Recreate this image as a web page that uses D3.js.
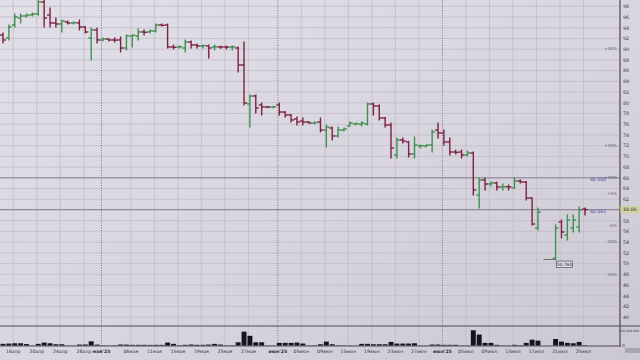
<!DOCTYPE html>
<html>
<head>
<meta charset="utf-8">
<script src="https://cdn.jsdelivr.net/npm/d3@7"></script>
<style>
  body { margin: 0; background: #d8d5de; }
  svg { display: block; font-family: "DejaVu Sans", sans-serif; }
</style>
</head>
<body>
<script>
// daily bars, Apr 14 .. Jul 25 2025 (weekend sessions included)
const dates = [
  '04-14','04-15','04-16','04-17','04-18','04-19','04-20','04-21','04-22','04-23','04-24','04-25','04-26','04-27','04-28','04-29','04-30',
  '05-01','05-02','05-03','05-04','05-05','05-06','05-07','05-08','05-10','05-11','05-12','05-13','05-14','05-15','05-16','05-17','05-18','05-19','05-20','05-21','05-22','05-23','05-24','05-25','05-26','05-27','05-28','05-29','05-30','05-31',
  '06-01','06-02','06-03','06-04','06-05','06-06','06-07','06-08','06-09','06-10','06-11','06-14','06-15','06-16','06-17','06-18','06-19','06-20','06-21','06-22','06-23','06-24','06-25','06-26','06-27','06-28','06-29','06-30',
  '07-01','07-02','07-03','07-04','07-05','07-06','07-07','07-08','07-09','07-10','07-11','07-12','07-13','07-14','07-15','07-16','07-17','07-18','07-19','07-20','07-21','07-22','07-23','07-24','07-25'
]

const open = [
  92.65,92.09,94.52,95.82,96.19,96.38,96.57,98.81,96.38,94.89,94.70,95.08,94.89,94.89,94.14,92.09,93.58,
  91.72,91.90,91.72,91.72,90.22,92.46,92.46,93.21,93.21,93.40,94.52,94.52,90.41,90.41,90.22,91.34,90.78,90.60,90.60,90.41,90.41,90.41,90.41,90.22,87.05,79.78,81.27,79.59,79.22,79.20,
  79.59,78.28,77.72,76.98,76.60,76.42,76.23,76.42,74.92,75.30,73.81,74.92,75.67,76.04,76.04,76.04,79.78,79.40,77.16,75.86,70.26,73.06,72.69,70.45,71.94,71.94,72.13,74.92,
  74.37,72.69,70.82,70.82,70.26,70.63,62.80,65.60,64.85,65.04,64.29,64.35,64.10,65.41,65.22,62.24,56.64,null,null,51.00,57.76,55.34,56.64,56.83,60.19
]
const high = [
  93.02,94.52,96.57,96.57,96.57,96.75,99.18,99.18,97.69,95.82,95.45,95.26,95.08,95.45,94.20,93.96,93.96,
  92.09,91.95,92.09,92.28,92.65,92.65,93.77,93.58,93.58,94.70,94.70,94.70,90.78,90.60,91.72,91.53,90.95,90.78,90.78,90.78,90.55,90.60,90.60,90.41,91.34,81.46,81.46,79.96,79.30,79.35,
  79.96,78.35,77.80,77.35,77.16,76.50,76.42,77.16,75.86,75.48,75.48,75.30,76.42,76.23,76.42,79.96,79.96,79.59,77.25,76.23,73.43,73.43,72.80,73.62,72.13,72.13,74.92,76.23,
  74.92,73.43,71.19,71.19,71.00,70.82,65.97,65.97,65.22,65.22,64.85,64.66,65.97,65.60,65.30,62.30,60.37,null,null,57.20,58.13,59.07,59.07,60.56,60.37
]
const low = [
  91.16,91.72,94.14,94.89,96.01,96.19,96.38,94.14,94.14,94.14,93.21,94.70,94.70,93.58,93.02,87.99,91.16,
  91.53,91.53,91.34,89.48,89.85,90.41,91.72,92.65,93.02,93.21,94.33,90.22,90.04,90.22,89.48,90.22,90.22,90.22,88.36,89.85,90.15,90.04,89.85,85.75,79.59,75.48,78.10,77.72,79.10,79.05,
  77.72,77.35,76.42,75.86,75.86,76.23,76.04,74.55,71.75,73.06,73.62,74.74,75.60,75.86,75.67,75.86,77.72,76.79,75.48,69.70,69.70,72.50,69.89,69.70,71.57,71.75,70.82,73.43,
  72.13,70.26,70.45,69.70,70.07,62.80,60.37,63.73,64.48,63.73,63.73,63.73,64.10,65.04,61.87,57.20,56.27,null,null,50.76,54.78,54.40,55.90,55.90,59.07
]
const close = [
  91.72,94.14,96.01,96.19,96.38,96.57,98.81,95.82,94.89,94.70,95.26,94.89,94.95,94.14,93.21,93.58,91.72,
  91.90,91.72,91.70,90.22,92.46,92.60,93.21,93.15,93.40,94.52,94.45,90.41,90.35,90.45,91.34,90.78,90.60,90.65,90.22,90.45,90.40,90.38,90.45,87.05,79.96,81.27,79.03,79.22,79.20,79.25,
  78.28,77.72,76.79,76.42,76.42,76.23,76.30,74.92,75.48,73.81,74.92,75.11,76.23,76.10,76.23,79.78,79.40,77.16,75.86,71.57,73.06,72.87,70.45,72.13,72.00,72.10,74.55,74.37,
  72.69,70.82,70.75,70.26,70.63,63.73,65.60,64.85,65.04,64.29,64.35,64.29,65.41,65.22,62.24,57.39,59.63,null,null,56.64,55.90,58.13,58.13,60.00,60.063
]
// volume, millions of shares
const volume = [
  10.6,12.5,14.4,14.4,9.4,1.2,10.6,18.8,14.4,8.1,8.1,1.0,1.1,6.2,6.5,26.9,6.0,
  1.3,1.0,2.0,6.3,6.0,4.4,4.2,4.5,4.0,4.4,4.1,18.8,10.6,2.0,4.4,6.3,4.4,4.4,6.0,10.6,6.2,1.5,1.8,20.6,89.4,62.5,20.6,20.6,1.2,1.0,
  16.9,16.9,16.9,18.8,12.5,1.6,1.4,8.1,25.0,8.1,1.9,1.2,1.0,1.3,10.6,10.6,8.1,8.1,8.1,23.1,12.5,12.5,12.5,14.4,1.2,1.0,6.3,6.3,
  4.4,4.4,4.4,1.1,1.2,98.1,70.6,16.9,16.9,4.4,1.2,1.0,4.4,1.9,16.9,37.5,31.3,0,0,41.9,25.0,16.9,14.4,23.1,1.9
]

const tickDates = ['04-16','04-20','04-24','04-28','05-06','05-11','05-15','05-19','05-23','05-27',
  '06-05','06-09','06-15','06-19','06-23','06-27','07-05','07-09','07-13','07-17','07-21','07-25']
const tickLabels = ['16апр','20апр','24апр','28апр','06мая','11мая','15мая','19мая','23мая','27мая',
  '05июн','09июн','15июн','19июн','23июн','27июн','05июл','09июл','13июл','17июл','21июл','25июл']
const monthDates = ['05-01','06-01','07-01']
const monthLabels = ["май'25","июн'25","июл'25"]

const priceTicks = [40,42,44,46,48,50,52,54,56,58,60,62,64,66,68,70,72,74,76,78,80,82,84,86,88,90,92,94,96,98]
const levelPrices = [66.000, 60.063]
const levelLabels = ['66.000', '60.063']
const pctSteps = [50, 20, 10, 5, -5, -10, -20]
const pctLabels = ['+50%', '+20%', '+10%', '+5%', '-5%', '-10%', '-20%']
const lastPrice = 60.063
const lowDate = '07-20'
const lowPrice = 50.760
const volTicks = [0, 100]
const volTickLabels = ['0', '100 000 000']

const W = 640, H = 360
const AXIS_X = 620
const UP = '#3f8f4f', DOWN = '#7c2140'

const bars = dates.map((d, i) => ({
  d, o: open[i], h: high[i], l: low[i], c: close[i], v: volume[i]
}))

const svg = d3.select('body').append('svg')
  .attr('width', W).attr('height', H)

// screen-photo background
const defs = svg.append('defs')
const bg = defs.append('linearGradient').attr('id', 'bg')
  .attr('x1', 0).attr('y1', 0).attr('x2', 1).attr('y2', 1)
bg.append('stop').attr('offset', '0%').attr('stop-color', '#e1dfe7')
bg.append('stop').attr('offset', '55%').attr('stop-color', '#d8d5de')
bg.append('stop').attr('offset', '100%').attr('stop-color', '#cbc8d1')
svg.append('rect').attr('width', W).attr('height', H).attr('fill', 'url(#bg)')

const x = d3.scalePoint().domain(dates).range([3, 585])
const step = x.step()
const y = d3.scaleLinear().domain([40, 98]).range([317.2, 6.3])
const yv = d3.scaleLinear().domain([0, 100]).range([345.5, 330])

// grid
const grid = svg.append('g')
grid.selectAll('.hg').data(priceTicks).join('line')
  .attr('x1', 0).attr('x2', AXIS_X)
  .attr('y1', d => y(d)).attr('y2', d => y(d))
  .attr('stroke', '#c1bdc9').attr('stroke-width', 0.8)
grid.selectAll('.vg').data(tickDates).join('line')
  .attr('x1', d => x(d) - 1.5).attr('x2', d => x(d) - 1.5)
  .attr('y1', 0).attr('y2', 346)
  .attr('stroke', '#c1bdc9').attr('stroke-width', 0.8)
grid.selectAll('.mg').data(monthDates).join('line')
  .attr('x1', d => x(d) - 1.5).attr('x2', d => x(d) - 1.5)
  .attr('y1', 0).attr('y2', 346)
  .attr('stroke', '#6f6b7a').attr('stroke-width', 0.9)
  .attr('stroke-dasharray', '1,1.5')

// level lines
svg.selectAll('.lvl').data(levelPrices).join('line')
  .attr('x1', 0).attr('x2', AXIS_X)
  .attr('y1', d => y(d)).attr('y2', d => y(d))
  .attr('stroke', '#86828f').attr('stroke-width', 1)
svg.selectAll('.lvlt').data(levelPrices).join('text')
  .attr('x', 606).attr('y', d => y(d) + 3.5)
  .attr('text-anchor', 'end').attr('font-size', 4.6)
  .attr('fill', '#5a50b4')
  .text((d, i) => levelLabels[i])

// percent marks left of the axis
svg.selectAll('.pct').data(pctSteps).join('text')
  .attr('x', 617).attr('y', d => y(lastPrice * (1 + d / 100)) + 1.6)
  .attr('text-anchor', 'end').attr('font-size', 4.2)
  .attr('fill', '#55525f')
  .text((d, i) => pctLabels[i])

// panel separators and axis
svg.append('line').attr('x1', 0).attr('x2', W).attr('y1', 326).attr('y2', 326)
  .attr('stroke', '#4f4b5a').attr('stroke-width', 1)
svg.append('line').attr('x1', 0).attr('x2', AXIS_X).attr('y1', 346).attr('y2', 346)
  .attr('stroke', '#4f4b5a').attr('stroke-width', 1)
svg.append('line').attr('x1', AXIS_X).attr('x2', AXIS_X).attr('y1', 0).attr('y2', 347)
  .attr('stroke', '#4a4655').attr('stroke-width', 1.2)

// OHLC bars
const ohlc = svg.append('g')
  .selectAll('g').data(bars.filter(b => b.o != null)).join('g')
  .attr('stroke', b => b.c >= b.o ? UP : DOWN)
  .attr('stroke-width', 1.4)
ohlc.append('line')
  .attr('x1', b => x(b.d)).attr('x2', b => x(b.d))
  .attr('y1', b => y(b.h) - 0.5).attr('y2', b => y(b.l) + 0.5)
ohlc.append('line')
  .attr('x1', b => x(b.d) - step / 2).attr('x2', b => x(b.d))
  .attr('y1', b => y(b.o)).attr('y2', b => y(b.o))
ohlc.append('line')
  .attr('x1', b => x(b.d)).attr('x2', b => x(b.d) + step / 2)
  .attr('y1', b => y(b.c)).attr('y2', b => y(b.c))

// low marker
svg.append('line')
  .attr('x1', x(lowDate) - 12).attr('x2', x(lowDate))
  .attr('y1', y(lowPrice)).attr('y2', y(lowPrice))
  .attr('stroke', '#55525f').attr('stroke-width', 0.8)
svg.append('rect')
  .attr('x', x(lowDate) + 1).attr('y', y(lowPrice) + 1.5)
  .attr('width', 16).attr('height', 6.5)
  .attr('fill', '#dcdae2').attr('stroke', '#3f3c4a').attr('stroke-width', 0.6)
svg.append('text')
  .attr('x', x(lowDate) + 9).attr('y', y(lowPrice) + 6.5)
  .attr('text-anchor', 'middle').attr('font-size', 4.4).attr('fill', '#2e2b38')
  .text(lowPrice.toFixed(3))

// volume bars
svg.append('g').selectAll('rect').data(bars.filter(b => b.v > 0)).join('rect')
  .attr('x', b => x(b.d) - step * 0.42)
  .attr('width', step * 0.84)
  .attr('y', b => yv(b.v))
  .attr('height', b => yv(0) - yv(b.v))
  .attr('fill', '#15131c')

// price axis labels (the one under the current-price tag is hidden by it)
svg.selectAll('.pt').data(priceTicks.filter(d => Math.abs(y(d) - y(lastPrice)) > 5)).join('text')
  .attr('x', 623).attr('y', d => y(d) + 1.8)
  .attr('font-size', 4.8).attr('fill', '#3a3745')
  .text(d => d)

// current price tag
svg.append('rect')
  .attr('x', AXIS_X + 0.5).attr('y', y(lastPrice) - 3.5)
  .attr('width', 19.5).attr('height', 7)
  .attr('fill', '#cfd39c')
svg.append('text')
  .attr('x', 630).attr('y', y(lastPrice) + 1.8)
  .attr('text-anchor', 'middle').attr('font-size', 4.6).attr('fill', '#3a3745')
  .text(lastPrice.toFixed(2))

// volume axis labels
svg.selectAll('.vt').data(volTicks).join('text')
  .attr('x', (d, i) => i === 1 ? 639 : 622)
  .attr('text-anchor', (d, i) => i === 1 ? 'end' : 'start')
  .attr('y', d => yv(d) + 1.5)
  .attr('font-size', (d, i) => i === 1 ? 3.1 : 4.2).attr('fill', '#3a3745')
  .text((d, i) => volTickLabels[i])

// date axis labels
svg.selectAll('.xt').data(tickDates).join('text')
  .attr('x', d => x(d) - 1.5).attr('y', 352.5)
  .attr('text-anchor', 'middle').attr('font-size', 4.6).attr('fill', '#34313f')
  .text((d, i) => tickLabels[i])
svg.selectAll('.xm').data(monthDates).join('text')
  .attr('x', d => x(d) - 1.5).attr('y', 352.5)
  .attr('text-anchor', 'middle').attr('font-size', 4.6).attr('fill', '#34313f')
  .attr('font-weight', 'bold')
  .text((d, i) => monthLabels[i])

// scroll handle at bottom right
svg.append('rect').attr('x', 625).attr('y', 348).attr('width', 15).attr('height', 5)
  .attr('fill', '#a9a6b2')
</script>
</body>
</html>
